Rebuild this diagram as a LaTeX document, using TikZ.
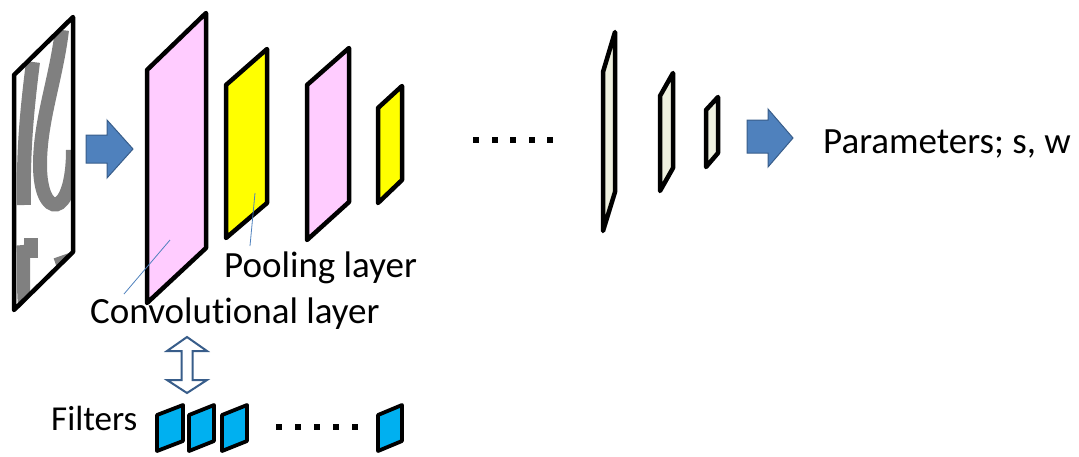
\documentclass[tikz,border=0pt]{standalone}
\usepackage{fontspec}
\setmainfont{Carlito}[Ligatures=NoCommon]
\begin{document}
\begin{tikzpicture}[x=1pt,y=-1pt,
  layer/.style={draw=black,line width=4.5pt,line join=round},
  filt/.style={draw=black,line width=3.8pt,line join=round,fill=filtblue},
  lbl/.style={inner sep=0pt,anchor=base west,font=\fontsize{37}{40}\selectfont},
  leader/.style={draw=arrowblue,line width=0.8pt},
  blockarrow/.style={fill=arrowblue,draw=arrowdark,line width=1pt,line join=miter},
  dotsq/.style={fill=black,minimum size=6pt,inner sep=0pt,draw=none}]
\definecolor{arrowblue}{HTML}{4F81BD}
\definecolor{arrowdark}{HTML}{385D8A}
\definecolor{pinkl}{HTML}{FFCCFF}
\definecolor{yel}{HTML}{FFFF00}
\definecolor{palel}{HTML}{EEF0DF}
\definecolor{filtblue}{HTML}{00B0F0}
\definecolor{texgrey}{HTML}{808080}
\useasboundingbox (0,0) rectangle (1079,456);
% input image
\begin{scope}
\clip (14,75) -- (73,17) -- (73,252) -- (14,310) -- cycle;
\fill[white] (14,17) rectangle (73,310);
\draw[texgrey,line width=14pt] (33,62) .. controls (27,110) and (23,150) .. (24,205);
\draw[texgrey,line width=14pt] (62,30) .. controls (56,80) and (40,120) .. (40,165) .. controls (40,220) and (73,220) .. (73,150);
\draw[texgrey,line width=13pt] (23,245) .. controls (25,265) and (22,285) .. (25,310);
\fill[texgrey] (24,238) rectangle (38,258);
\draw[texgrey,line width=14pt] (56,265) -- (76,258);
\end{scope}
\draw[layer] (14,75) -- (73,17) -- (73,252) -- (14,310) -- cycle;
% arrow 1
\draw[blockarrow] (86,135) -- (107,135) -- (107,120) -- (133,149) -- (107,178) -- (107,163) -- (86,163) -- cycle;
% layers
\draw[layer,fill=pinkl] (147,70) -- (206,13) -- (206,248) -- (147,303) -- cycle;
\draw[layer,fill=yel] (226,85) -- (267,49) -- (267,203) -- (226,238) -- cycle;
\draw[layer,fill=pinkl] (307,85) -- (349,48) -- (349,202) -- (307,240) -- cycle;
\draw[layer,fill=yel] (378,108) -- (402,86) -- (402,180) -- (378,203) -- cycle;
\foreach \i/\xx in {1/476,2/494.5,3/513,4/531.5,5/550}
  \node[dotsq] (td\i) at (\xx,139.5) {};
\draw[layer,fill=palel] (603,72) -- (615,32) -- (615,192) -- (603,231) -- cycle;
\draw[layer,fill=palel] (660,96) -- (673,73) -- (673,168) -- (660,191) -- cycle;
\draw[layer,fill=palel] (706,110) -- (718,97) -- (718,153) -- (706,167) -- cycle;
% arrow 2
\draw[blockarrow] (747,120) -- (768,120) -- (768,109) -- (793,138) -- (768,167) -- (768,153) -- (747,153) -- cycle;
% labels
\node[lbl] (param) at (823,153) {Parameters; s, w};
\node[lbl] (pool) at (224,277) {Pooling layer};
\node[lbl] (conv) at (90,323) {Convolutional layer};
\node[lbl,font=\fontsize{35}{40}\selectfont] (filters) at (51,430) {Filters};
% leaders
\coordinate (convpt) at (170,240);
\coordinate (convend) at (124,294);
\coordinate (poolpt) at (255,193);
\coordinate (poolend) at (250,246);
\draw[leader] (convpt) -- (convend);
\draw[leader] (poolpt) -- (poolend);
% double arrow
\draw[fill=white,draw=arrowdark,line width=2pt,line join=miter]
  (187,337) -- (207,351) -- (192.5,351) -- (192.5,380) -- (207,380) -- (187,393)
  -- (167,380) -- (181.5,380) -- (181.5,351) -- (167,351) -- cycle;
% filters
\draw[filt] (157,415) -- (183,405) -- (183,441) -- (157,451) -- cycle;
\draw[filt] (189,415) -- (214,405) -- (214,441) -- (189,451) -- cycle;
\draw[filt] (222,415) -- (247,405) -- (247,441) -- (222,451) -- cycle;
\foreach \i/\xx in {1/279,2/298,3/317,4/336,5/355}
  \node[dotsq] (bd\i) at (\xx,427) {};
\draw[filt] (378,415) -- (402,405) -- (402,441) -- (378,451) -- cycle;
\end{tikzpicture}
\end{document}
